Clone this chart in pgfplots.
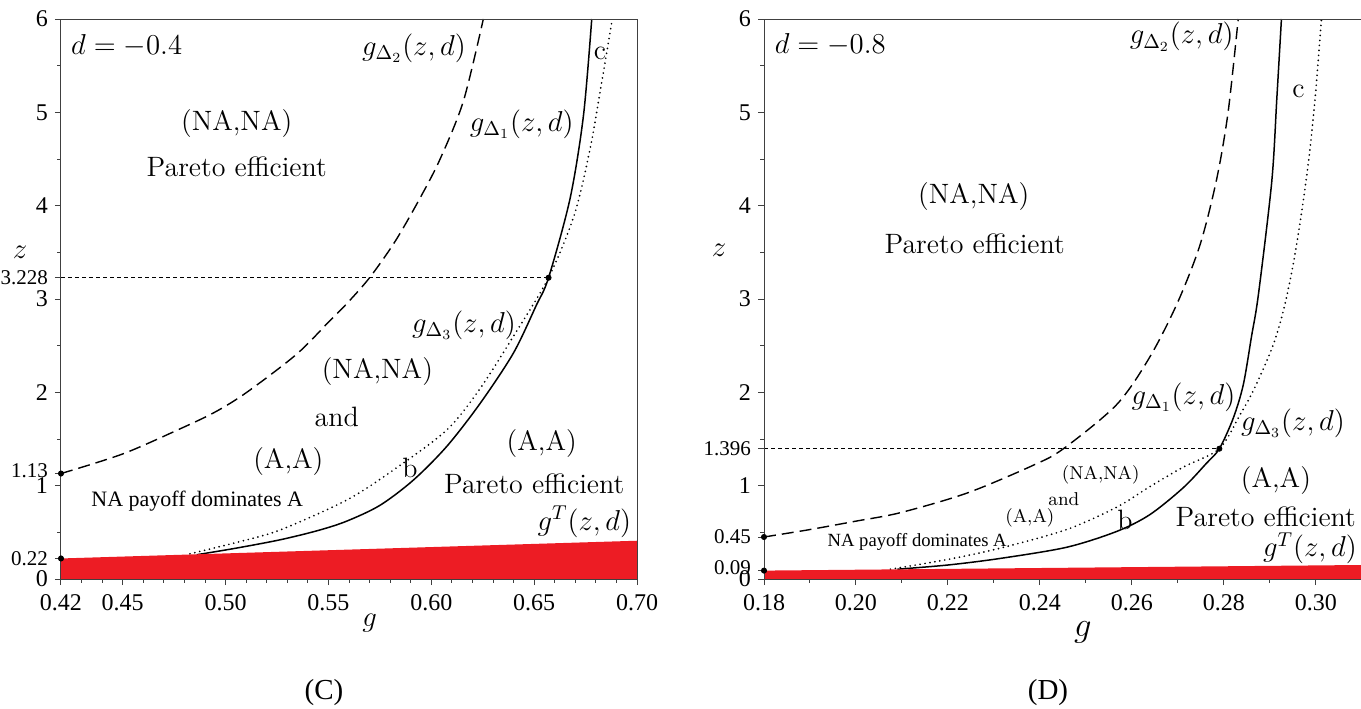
\documentclass[border=0pt]{standalone}
\usepackage{fontspec}
\usepackage{pgfplots}
\pgfplotsset{compat=1.18}
\newfontfamily\tms{Liberation Serif}
\definecolor{zred}{RGB}{237,28,36}
\newcommand\lab{\fontsize{14}{16}\selectfont}
\newcommand\tickfont{\tms\fontsize{12}{12}\selectfont}
\newcommand\xtrafont{\tms\fontsize{10.5}{10.5}\selectfont}

\pgfplotsset{
  panel/.style={
    scale only axis, height=280pt, ymin=0, ymax=6,
    axis on top, clip=false,
    axis line style={black!75, line width=0.5pt},
    tick align=outside, xtick pos=bottom, ytick pos=left,
    major tick length=3pt, minor tick length=1.8pt,
    every tick/.style={black!75, line width=0.5pt},
    ytick={0,1,2,3,4,5,6}, yticklabels={0,1,2,3,4,5,6},
    minor ytick={0.5,1.5,2.5,3.5,4.5,5.5},
    xticklabel style={font=\tickfont, yshift=-1pt},
    yticklabel style={font=\tickfont},
    extra y tick style={yticklabel style={font=\xtrafont}},
  },
  dsh/.style={black, line width=0.7pt, dash pattern=on 6pt off 3pt, smooth},
  sld/.style={black, line width=0.75pt, smooth},
  dtd/.style={black, line width=0.95pt, dash pattern=on 0pt off 2.5pt, line cap=round, smooth},
  ref/.style={black, line width=0.4pt, dash pattern=on 2pt off 1.5pt},
  dots/.style={only marks, mark=*, mark size=1.3pt, black},
}

\begin{document}
\begin{tikzpicture}
\useasboundingbox (0,0) rectangle (680.5pt,354pt);

% ---------- (C) d = -0.4 ----------
\begin{axis}[panel,
  at={(30.5pt,64.5pt)}, anchor=south west, width=288pt,
  xmin=0.42, xmax=0.70,
  xtick={0.42,0.45,0.50,0.55,0.60,0.65,0.70},
  xticklabels={0.42,0.45,0.50,0.55,0.60,0.65,0.70},
  minor xtick={0.43,0.44,0.46,0.47,0.48,0.49,0.51,0.52,0.53,0.54,0.56,0.57,0.58,0.59,0.61,0.62,0.63,0.64,0.66,0.67,0.68,0.69},
  extra y ticks={0.22,1.13,3.228}, extra y tick labels={0.22,\raisebox{3pt}{1.13},3.228},
  every axis x label/.style={at={(axis description cs:0.536,0)}, anchor=center, yshift=-22pt, font=\fontsize{14}{16}\selectfont},
  every axis y label/.style={at={(axis description cs:-0.071,0.583)}, anchor=center, font=\fontsize{14}{16}\selectfont},
  xlabel={$g$}, ylabel={$z$},
]
% g_Delta2
\addplot[dsh] coordinates {(0.42,1.13) (0.45,1.34) (0.478,1.61) (0.495,1.79) (0.5103,2.0) (0.5346,2.41) (0.5508,2.77) (0.5589,2.95) (0.570,3.228) (0.5825,3.62) (0.5945,4.08) (0.6043,4.5) (0.6156,5.12) (0.6253,6.0)};
% g_Delta1
\addplot[sld] coordinates {(0.486,0.26) (0.505,0.33) (0.5265,0.42) (0.545,0.52) (0.5589,0.62) (0.5751,0.79) (0.5913,1.06) (0.6075,1.42) (0.6237,1.88) (0.6399,2.42) (0.651,2.93) (0.657,3.228) (0.6675,4.08) (0.674,4.97) (0.678,6.0)};
% g_Delta3
\addplot[dtd] coordinates {(0.4827,0.27) (0.505,0.39) (0.5265,0.525) (0.5589,0.846) (0.5816,1.168) (0.6075,1.596) (0.6237,2.04) (0.6399,2.60) (0.657,3.228) (0.6695,3.90) (0.6772,4.61) (0.6829,5.33) (0.688,6.0)};
% g^T region
\addplot[fill=zred, draw=none] coordinates {(0.42,0.22) (0.70,0.41)} \closedcycle;
\addplot[ref] coordinates {(0.42,3.228) (0.657,3.228)};
\addplot[dots] coordinates {(0.42,1.13) (0.42,0.22) (0.657,3.228)};

\node[font=\lab, anchor=west] at (axis cs:0.4215,5.71) {$d=-0.4$};
\node[font=\lab] at (axis cs:0.5916,5.69) {$g_{\Delta_2}(z,d)$};
\node[font=\lab] at (axis cs:0.5054,4.875) {(NA,NA)};
\node[font=\lab] at (axis cs:0.5054,4.415) {Pareto efficient};
\node[font=\lab] at (axis cs:0.644,4.87) {$g_{\Delta_1}(z,d)$};
\node[font=\lab] at (axis cs:0.682,5.63) {c};
\node[font=\lab] at (axis cs:0.6159,2.72) {$g_{\Delta_3}(z,d)$};
\node[font=\lab] at (axis cs:0.5738,2.22) {(NA,NA)};
\node[font=\lab] at (axis cs:0.554,1.74) {and};
\node[font=\lab] at (axis cs:0.5305,1.257) {(A,A)};
\node[font=\lab] at (axis cs:0.5897,1.19) {b};
\node[font=\lab] at (axis cs:0.6537,1.45) {(A,A)};
\node[font=\lab] at (axis cs:0.650,1.023) {Pareto efficient};
\node[font=\lab] at (axis cs:0.6744,0.615) {$g^T(z,d)$};
\node[font=\tms\fontsize{11}{12}\selectfont] at (axis cs:0.4862,0.83) {NA payoff dominates A};
\end{axis}

% ---------- (D) d = -0.8 ----------
\begin{axis}[panel,
  at={(382pt,64.5pt)}, anchor=south west, width=298.5pt,
  xmin=0.18, xmax=0.3098,
  xtick={0.18,0.20,0.22,0.24,0.26,0.28,0.30},
  xticklabels={0.18,0.20,0.22,0.24,0.26,0.28,0.30},
  minor xtick={0.19,0.21,0.23,0.25,0.27,0.29},
  extra y ticks={0.09,0.45,1.396}, extra y tick labels={\raisebox{3pt}{0.09},0.45,1.396},
  every axis x label/.style={at={(axis description cs:0.534,0)}, anchor=center, yshift=-26.5pt, font=\fontsize{18}{20}\selectfont},
  every axis y label/.style={at={(axis description cs:-0.0754,0.587)}, anchor=center, font=\fontsize{15}{17}\selectfont},
  xlabel={$g$}, ylabel={$z$},
]
\addplot[dsh] coordinates {(0.18,0.45) (0.19,0.53) (0.20,0.62) (0.2096,0.71) (0.2241,0.92) (0.2386,1.22) (0.2451,1.396) (0.2567,1.87) (0.2639,2.38) (0.2699,2.96) (0.2748,3.58) (0.2784,4.28) (0.2809,5.0) (0.2831,6.0)};
\addplot[sld] coordinates {(0.209,0.105) (0.22,0.15) (0.2313,0.22) (0.2458,0.34) (0.2567,0.51) (0.2639,0.69) (0.2712,0.98) (0.2762,1.24) (0.279,1.396) (0.282,1.72) (0.2842,2.08) (0.286,2.6) (0.2875,3.05) (0.2904,4.26) (0.2915,5.15) (0.2925,6.0)};
\addplot[dtd] coordinates {(0.2075,0.105) (0.22,0.21) (0.2313,0.33) (0.2458,0.53) (0.2567,0.77) (0.2639,0.99) (0.2712,1.2) (0.279,1.396) (0.2835,1.76) (0.2864,2.02) (0.2905,2.48) (0.293,2.89) (0.2952,3.41) (0.2971,4.0) (0.2986,4.56) (0.2998,5.14) (0.3006,5.62) (0.3012,6.0)};
\addplot[fill=zred, draw=none] coordinates {(0.18,0.09) (0.3098,0.15)} \closedcycle;
\addplot[ref] coordinates {(0.18,1.396) (0.279,1.396)};
\addplot[dots] coordinates {(0.18,0.45) (0.18,0.09) (0.279,1.396)};

\node[font=\lab, anchor=west] at (axis cs:0.1808,5.72) {$d=-0.8$};
\node[font=\lab] at (axis cs:0.2708,5.81) {$g_{\Delta_2}(z,d)$};
\node[font=\lab] at (axis cs:0.2962,5.22) {c};
\node[font=\lab] at (axis cs:0.2256,4.10) {(NA,NA)};
\node[font=\lab] at (axis cs:0.2258,3.59) {Pareto efficient};
\node[font=\lab] at (axis cs:0.2712,1.95) {$g_{\Delta_1}(z,d)$};
\node[font=\lab] at (axis cs:0.295,1.67) {$g_{\Delta_3}(z,d)$};
\node[font=\fontsize{9.3}{10}\selectfont] at (axis cs:0.2532,1.114) {(NA,NA)};
\node[font=\fontsize{9.3}{10}\selectfont] at (axis cs:0.2452,0.854) {and};
\node[font=\fontsize{9.3}{10}\selectfont] at (axis cs:0.2378,0.65) {(A,A)};
\node[font=\lab] at (axis cs:0.2585,0.63) {b};
\node[font=\lab] at (axis cs:0.2913,1.06) {(A,A)};
\node[font=\lab] at (axis cs:0.2891,0.667) {Pareto efficient};
\node[font=\lab] at (axis cs:0.2987,0.33) {$g^T(z,d)$};
\node[font=\tms\fontsize{9.3}{10}\selectfont] at (axis cs:0.2133,0.40) {NA payoff dominates A};
\end{axis}

\node[font=\tms\fontsize{14.5}{16}\selectfont] at (162pt,7.5pt) {(C)};
\node[font=\tms\fontsize{14.5}{16}\selectfont] at (524pt,7.5pt) {(D)};
\end{tikzpicture}
\end{document}
